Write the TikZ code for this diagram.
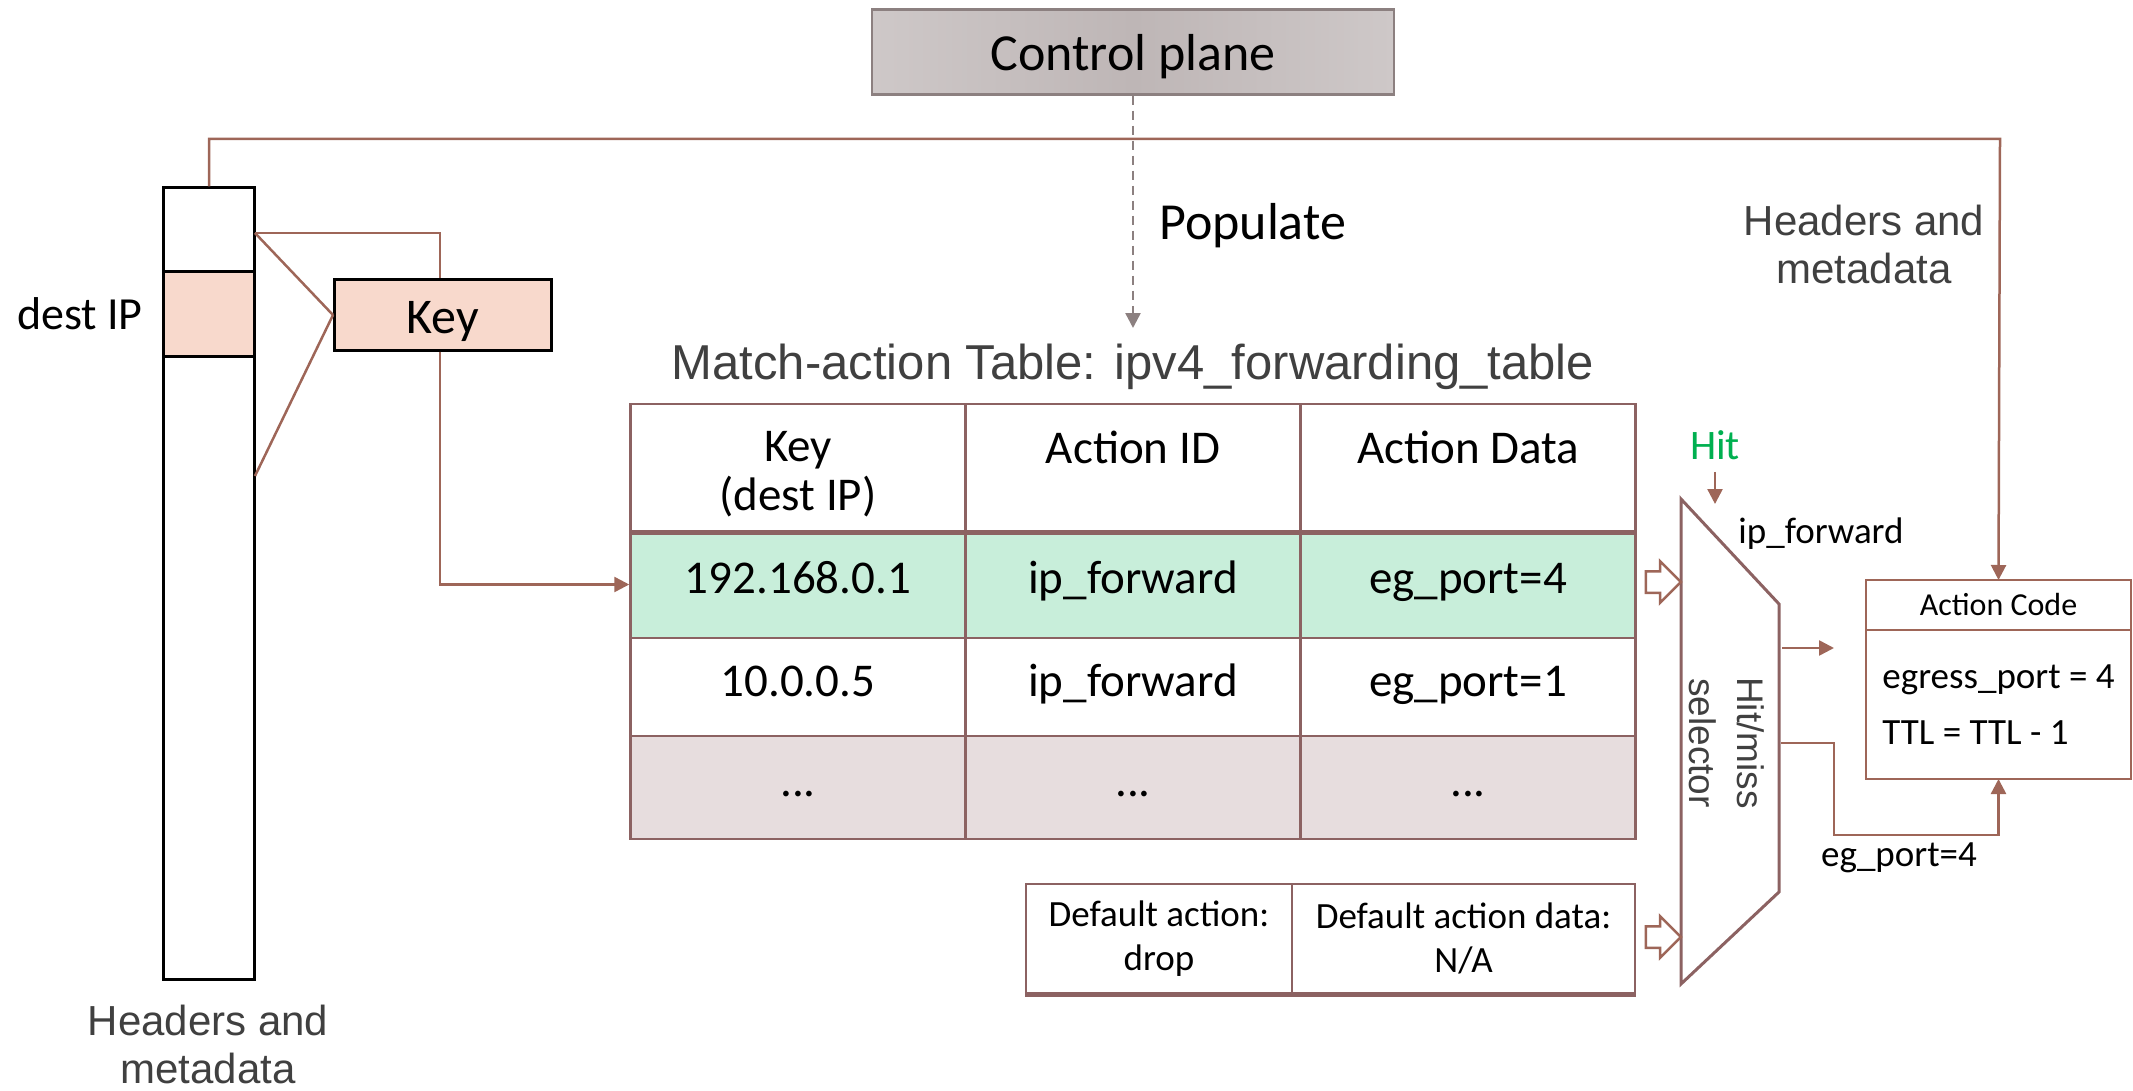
\documentclass[tikz,border=0pt]{standalone}
\usepackage{fontspec}
\setmainfont{Carlito}
\newfontfamily\arialfont{Liberation Sans}
\usetikzlibrary{positioning, arrows.meta, shapes.arrows}

\definecolor{linkc}{RGB}{158,102,88}
\definecolor{tblc}{RGB}{140,98,98}
\definecolor{keyc}{RGB}{248,217,204}
\definecolor{hitc}{RGB}{200,238,218}
\definecolor{morec}{RGB}{231,221,222}
\definecolor{cpmid}{RGB}{190,182,182}
\definecolor{cpedge}{RGB}{206,200,200}
\definecolor{cpline}{RGB}{140,128,128}
\definecolor{greyc}{RGB}{64,64,64}
\definecolor{hitgreen}{RGB}{0,176,80}

\newcommand\fsz[2]{\fontsize{#1}{#2}\selectfont}

\begin{document}
\begin{tikzpicture}[
    x=1pt, y=-1pt,
    link/.style={draw=linkc, line width=2.5pt},
    tip/.style={-{Triangle[length=15pt,width=15pt]}},
    txt/.style={inner sep=0pt, align=center},
    greytxt/.style={txt, text=greyc, font=\arialfont\fsz{42}{48}},
    blackbox/.style={draw=black, line width=3pt, inner sep=0pt},
    cell/.style={draw=tblc, line width=2.5pt, minimum width=335pt, inner sep=0pt,
        font=\fsz{47}{49}, text height=20pt, text depth=2pt},
    celltxt/.style={txt, font=\fsz{47}{49}},
    dfcell/.style={draw=tblc, line width=2.5pt, minimum height=109pt, inner sep=0pt,
        align=center, font=\fsz{37}{44}},
    hollow/.style={single arrow, draw=linkc, line width=2.5pt, fill=white,
        minimum height=35pt, text height=19pt, text depth=0pt,
        single arrow head extend=10pt, inner sep=0pt},
    acbox/.style={draw=linkc, line width=2.5pt, minimum width=265pt, inner sep=0pt,
        outer sep=0pt}
]
\useasboundingbox (0,0) rectangle (2133,1091);

% Control plane
\node[draw=cpline, line width=2.5pt, left color=cpedge, right color=cpedge,
    middle color=cpmid, minimum width=522pt, minimum height=85pt,
    text height=38pt, text depth=0pt, font=\fsz{52}{62}] (ctrl) at (1133,52) {Control plane};
\coordinate (popend) at (1133,328);
\draw[draw=cpline, line width=2.5pt, dash pattern=on 9pt off 6pt,
    -{Triangle[length=15pt,width=15pt]}] (ctrl.south) -- (popend);
\node[txt, anchor=west, font=\fsz{52}{62}] (pop) at (1159,226) {Populate};

% Headers and metadata column
\node[blackbox, minimum width=91pt, minimum height=791pt] (hdr) at (209,583.5) {};
\node[blackbox, fill=keyc, minimum width=91pt, minimum height=84pt] (dip) at (209,314) {};
\node[txt, left=19pt of dip, font=\fsz{46}{55}] (diplbl) {dest IP};
\node[greytxt] (hdrlbl) at (208,1044) {Headers and\\metadata};

% Key extraction
\node[blackbox, fill=keyc, minimum width=217pt, minimum height=70pt,
    text height=36pt, text depth=0pt, font=\fsz{50}{60}] (key) at (443,315) {Key};
\coordinate (ktop) at (255,233);
\coordinate (kbot) at (255,476);
\draw[link] (ktop) -- (key.west);
\draw[link] (kbot) -- (key.west);
\draw[link] (ktop) -| ([xshift=-3pt]key.north);

% Match-action table
\node[txt, text=greyc, font=\arialfont\fsz{49}{56}] (title) at (1133,367)
    {Match-action Table: ipv4\_forwarding\_table};
\foreach \n/\x/\kk/\kv in {1/798/192.168.0.1/10.0.0.5, 2/1133/ip\_forward/ip\_forward,
    3/1468/eg\_port=4/eg\_port=1} {
    \node[cell, minimum height=127pt] (hd\n) at (\x,467.5) {};
    \node[cell, fill=hitc, minimum height=107pt] (hit\n) at (\x,584.5) {\kk};
    \node[cell, minimum height=98pt] (ent\n) at (\x,687) {\kv};
    \node[cell, fill=morec, minimum height=103pt] (more\n) at (\x,787.5) {...};
}
\node[celltxt, anchor=north] (hdtxt1) at ([yshift=-28pt]hd1.north) {Key\\(dest IP)};
\node[celltxt, anchor=north] (hdtxt2) at ([yshift=-28pt]hd2.north) {Action ID};
\node[celltxt, anchor=north] (hdtxt3) at ([yshift=-28pt]hd3.north) {Action Data};
\draw[tblc, line width=5pt] (hd1.south west) -- (hd3.south east);
\draw[link, tip] ([xshift=-3pt]key.south) |- (hit1.west);

% Default action
\node[dfcell, minimum width=266pt] (dfa) at (1159,938.5) {Default action:\\drop};
\node[dfcell, minimum width=343pt] (dfd) at (1463.5,938.5) {Default action data:\\N/A};
\draw[tblc, line width=5pt] (dfa.south west) -- (dfd.south east);

% Hit/miss selector
\coordinate (s1) at (1681,499);
\coordinate (s2) at (1779,604);
\coordinate (s3) at (1779,892);
\coordinate (s4) at (1681,984);
\draw[tblc, line width=3pt, line join=miter] (s1) -- (s2) -- (s3) -- (s4) -- cycle;
\node[txt, text=greyc, font=\arialfont\fsz{37}{48}, rotate=-90] (sel) at (1727,743)
    {Hit/miss\\selector};
\node[hollow] (hol1) at (1658,582) {};
\node[hollow] (hol2) at (1658,937) {};
\node[txt, text=hitgreen, font=\fsz{42}{48}] (hit) at (1715,445) {Hit};
\coordinate (hitin) at (1715,504);
\draw[link, tip] ([yshift=-12pt]hit.south) -- (hitin);
\node[txt, font=\fsz{37}{44}] (fwdlbl) at (1821,534) {ip\_forward};

% Action code
\node[acbox, minimum height=50pt, font=\fsz{32}{38}] (achead) at (1998.5,605) {Action Code};
\node[acbox, minimum height=149pt, below=0pt of achead, align=left,
    font=\fsz{37}{56}] (acbody) {egress\_port = 4\\TTL = TTL - 1};
\coordinate (selhit) at (1782,648);
\coordinate (hitend) at (1834,648);
\draw[link, tip] (selhit) -- (hitend);
\coordinate (selmiss) at (1781,743);
\coordinate (bend) at (1834,835);
\draw[link, tip] (selmiss) -| (bend) -| (acbody.south);
\node[txt, font=\fsz{37}{44}] (eglbl) at (1899,858) {eg\_port=4};

% Headers and metadata to action code
\coordinate (tl) at (2000,139);
\draw[link, tip] (hdr.north) |- (tl) -- (achead.north);
\node[greytxt] (hdrlbl2) at (1864,244) {Headers and\\metadata};

\end{tikzpicture}
\end{document}
